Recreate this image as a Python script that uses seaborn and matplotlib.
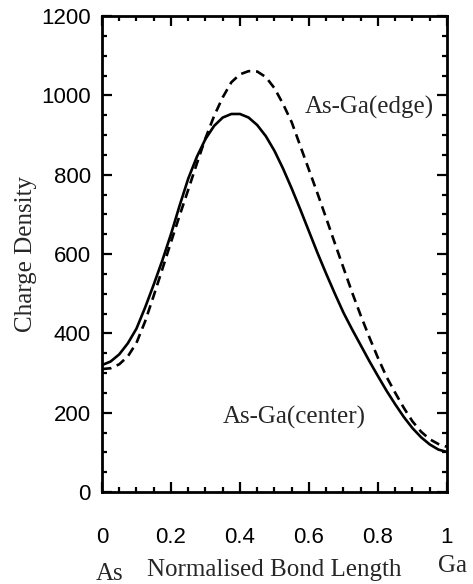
import matplotlib

matplotlib.use("Agg")
import matplotlib.pyplot as plt
import numpy as np
import pandas as pd
import seaborn as sns
from matplotlib.ticker import FormatStrFormatter, MultipleLocator

# Values
BOND_POSITION = [
    0.0, 0.025, 0.05, 0.075, 0.1, 0.125, 0.15, 0.175, 0.2, 0.225,
    0.25, 0.275, 0.3, 0.325, 0.35, 0.375, 0.4, 0.425, 0.45, 0.475,
    0.5, 0.525, 0.55, 0.575, 0.6, 0.625, 0.65, 0.675, 0.7, 0.725,
    0.75, 0.775, 0.8, 0.825, 0.85, 0.875, 0.9, 0.925, 0.95, 0.975, 1.0,
]
CENTER_DENSITY = [
    320, 329, 347, 375, 412, 465, 523, 584, 650, 722,
    790, 845, 890, 923, 944, 953, 953, 944, 925, 897,
    860, 815, 765, 712, 657, 602, 550, 500, 452, 410,
    370, 330, 292, 255, 221, 189, 161, 138, 120, 107, 101,
]
EDGE_DENSITY = [
    310, 312, 322, 342, 376, 430, 495, 562, 630, 697,
    762, 828, 892, 948, 995, 1033, 1053, 1061, 1060, 1046,
    1018, 978, 932, 872, 812, 752, 690, 627, 565, 503,
    445, 390, 338, 290, 250, 212, 178, 152, 133, 121, 114,
]
SERIES = ["As-Ga(center)", "As-Ga(edge)"]
X_TICKS = [0, 0.2, 0.4, 0.6, 0.8, 1.0]
Y_TICKS = [0, 200, 400, 600, 800, 1000, 1200]

SERIF = ["Liberation Serif", "DejaVu Serif"]
SANS = ["Liberation Sans", "DejaVu Sans"]


def main():
    sns.set_style("ticks")
    plt.rcParams.update(
        {
            "font.family": SANS,
            "axes.linewidth": 2.0,
            "xtick.direction": "in",
            "ytick.direction": "in",
            "xtick.top": True,
            "ytick.right": True,
            "xtick.major.size": 7.5,
            "ytick.major.size": 7.5,
            "xtick.minor.size": 3.8,
            "ytick.minor.size": 3.8,
            "xtick.major.width": 1.6,
            "ytick.major.width": 1.6,
            "xtick.minor.width": 1.6,
            "ytick.minor.width": 1.6,
            "xtick.color": "black",
            "ytick.color": "black",
            "axes.edgecolor": "black",
        }
    )

    data = pd.DataFrame(
        {
            "Position": BOND_POSITION * 2,
            "Density": CENTER_DENSITY + EDGE_DENSITY,
            "Bond": [SERIES[0]] * len(CENTER_DENSITY) + [SERIES[1]] * len(EDGE_DENSITY),
        }
    )

    figure = plt.figure(figsize=(4.73, 5.84), dpi=100)
    axis = figure.add_axes([0.2156, 0.1575, 0.7294, 0.8151])
    sns.lineplot(
        data=data,
        x="Position",
        y="Density",
        style="Bond",
        dashes={SERIES[0]: "", SERIES[1]: (3.6, 2.2)},
        color="black",
        linewidth=1.9,
        legend=False,
        ax=axis,
    )

    axis.set_xlim(0, 1)
    axis.set_ylim(0, 1200)
    axis.set_xticks(X_TICKS)
    axis.set_yticks(Y_TICKS)
    axis.xaxis.set_minor_locator(MultipleLocator(0.05))
    axis.yaxis.set_minor_locator(MultipleLocator(50))
    axis.xaxis.set_major_formatter(FormatStrFormatter("%g"))
    axis.tick_params(axis="x", which="major", pad=25, labelsize=16)
    axis.tick_params(axis="y", which="major", pad=8, labelsize=16)
    for side in ("top", "right"):
        axis.spines[side].set_visible(True)

    axis.set_ylabel("Charge Density", family=SERIF, fontsize=18, labelpad=3)
    axis.set_xlabel("Normalised Bond Length", family=SERIF, fontsize=18, labelpad=8)

    axis.text(0.023, -0.185, "As", transform=axis.transAxes, family=SERIF,
              fontsize=18, ha="center", va="baseline")
    axis.text(1.017, -0.168, "Ga", transform=axis.transAxes, family=SERIF,
              fontsize=18, ha="center", va="baseline")

    axis.text(0.587, 954, SERIES[1], family=SERIF, fontsize=18,
              ha="left", va="baseline")
    axis.text(0.350, 172, SERIES[0], family=SERIF, fontsize=18,
              ha="left", va="baseline")

    figure.savefig("out.png", dpi=100)


if __name__ == "__main__":
    main()
